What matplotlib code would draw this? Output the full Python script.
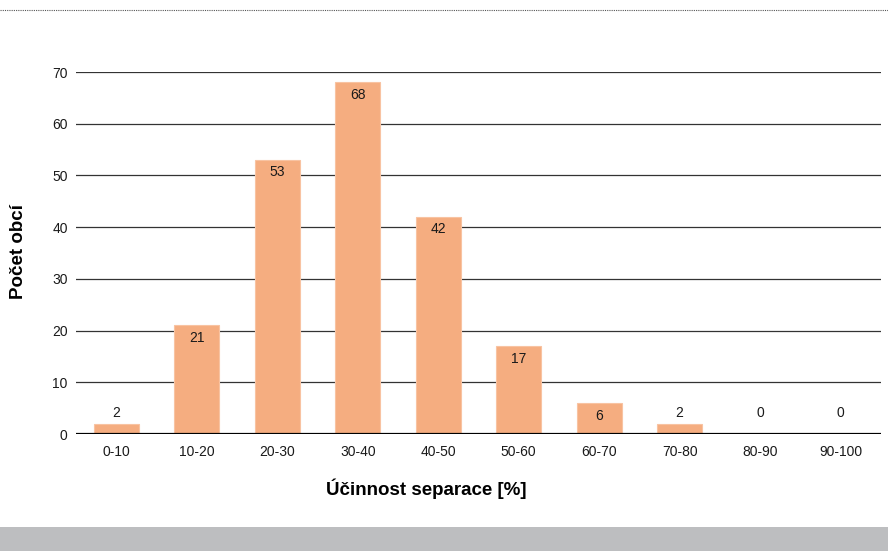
import matplotlib.pyplot as plt
import numpy as np

# rozdělení obcí podle účinnosti separace
categories = ['0-10', '10-20', '20-30', '30-40', '40-50', '50-60', '60-70', '70-80', '80-90', '90-100']
counts = [2, 21, 53, 68, 42, 17, 6, 2, 0, 0]
yticks = [0, 10, 20, 30, 40, 50, 60, 70]

bar_color = '#F5AD80'
plt.rcParams['font.family'] = ['Liberation Sans', 'DejaVu Sans']

fig = plt.figure(figsize=(8.88, 5.51), dpi=100)
ax = fig.add_axes([0.0856, 0.2123, 0.9064, 0.6570])

x = np.arange(len(categories))
bars = ax.bar(x, counts, width=0.56, color=bar_color, edgecolor='#F8C3A2', linewidth=0.8, zorder=3)

# hodnoty – uvnitř sloupce, u malých nad ním
for xi, v in zip(x, counts):
    if v >= 5:
        ax.annotate(str(v), (xi, v), xytext=(0, -4), textcoords='offset points',
                    ha='center', va='top', fontsize=10, color='#1a1a1a', zorder=4)
    else:
        ax.annotate(str(v), (xi, max(v, 2)), xytext=(0, 2.5), textcoords='offset points',
                    ha='center', va='bottom', fontsize=10, color='#1a1a1a', zorder=4)

ax.set_xlim(-0.5, len(categories) - 0.5)
ax.set_ylim(0, 70)
ax.set_yticks(yticks)
ax.set_xticks(x)
ax.set_xticklabels(categories)
ax.tick_params(axis='both', length=0, labelsize=10, colors='#1a1a1a')
ax.tick_params(axis='x', pad=8)
ax.tick_params(axis='y', pad=6)

for s in ax.spines.values():
    s.set_visible(False)
ax.yaxis.grid(True, color='#333333', linewidth=0.9, zorder=0)
ax.axhline(0, color='black', linewidth=1.6, zorder=5)

# popisky os
fig.text(0.4797, 0.1125, 'Účinnost separace [%]', fontsize=13.5, fontweight='bold',
         ha='center', va='center')
fig.text(0.0203, 0.5426, 'Počet obcí', fontsize=13.5, fontweight='bold',
         ha='center', va='center', rotation=90)

# horní tečkovaná linka a spodní šedý pruh
fig.add_artist(plt.Line2D([0, 1], [0.982, 0.982], transform=fig.transFigure,
                          color='#555555', linewidth=0.8, linestyle=(0, (1, 1))))
fig.add_artist(plt.Rectangle((0, 0), 1, 24 / 551, transform=fig.transFigure,
                             color='#BDBEC0', linewidth=0))

fig.savefig('out.png', dpi=100)
